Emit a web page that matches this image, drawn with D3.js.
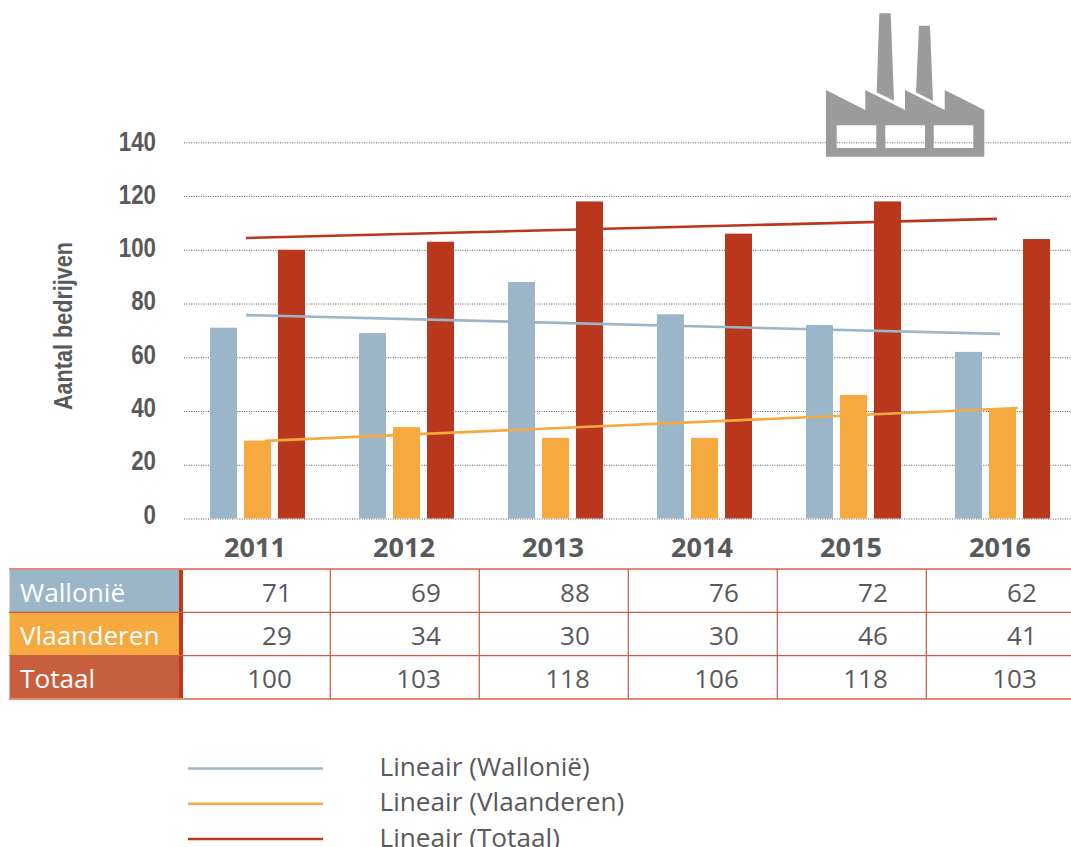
<!DOCTYPE html>
<html><head><meta charset="utf-8">
<script src="https://cdn.jsdelivr.net/npm/d3@7/dist/d3.min.js"></script>
<style>html,body{margin:0;padding:0;background:#fff}svg{display:block}</style>
</head><body><svg id="c" width="1071" height="847"></svg>
<script>
const years = [2011, 2012, 2013, 2014, 2015, 2016];
const seriesNames = ["Wallonië", "Vlaanderen", "Totaal"];
const wallonie = [71, 69, 88, 76, 72, 62];
const vlaanderen = [29, 34, 30, 30, 46, 41];
const totaal = [100, 103, 118, 106, 118, 104];
const tableWallonie = ["71", "69", "88", "76", "72", "62"];
const tableVlaanderen = ["29", "34", "30", "30", "46", "41"];
const tableTotaal = ["100", "103", "118", "106", "118", "103"];
const yTicks = [0, 20, 40, 60, 80, 100, 120, 140];
const trendWallonie = [[2010.923, 75.7], [2015.983, 68.7]];
const trendVlaanderen = [[2011.05, 28.9], [2016.104, 41.1]];
const trendTotaal = [[2010.923, 104.4], [2015.963, 111.5]];
const legendLabels = ["Lineair (Wallonië)", "Lineair (Vlaanderen)", "Lineair (Totaal)"];
const colors = ["#9bb6c9", "#f6a93f", "#b9371c"];
const tableFill = ["#9bb6c9", "#f6a93f", "#c75f3f"];
const ink = "#58595b";
const sans = "'Open Sans', sans-serif";
const narrow = "'Liberation Sans', sans-serif";

const svg = d3.select("#c");
const y = d3.scaleLinear().domain([0, 140]).range([518.5, 142.3]);
const labelY = d3.scaleLinear().domain([0, 140]).range([523.3, 150]);
const x0 = d3.scaleBand().domain(years).range([210, 1050]).paddingInner(54 / 149).paddingOuter(0);
const x1 = d3.scaleBand().domain(seriesNames).range([0, x0.bandwidth()]).paddingInner(7 / 34).paddingOuter(0);
const yearX = d3.scaleLinear().domain([2011, 2016]).range([257.5, 1002.5]);

// grid
const grid = svg.append("g").attr("transform", "translate(184,0)")
  .call(d3.axisLeft(y).tickValues(yTicks).tickSize(-887).tickFormat(""));
grid.select(".domain").remove();
grid.selectAll("line").attr("stroke", "#555").attr("stroke-dasharray", "1 1.4").attr("stroke-width", 1);

// y labels
const yAxis = svg.append("g").attr("transform", "translate(156,0)")
  .call(d3.axisLeft(labelY).tickValues(yTicks).tickSize(0).tickPadding(0));
yAxis.select(".domain").remove();
yAxis.selectAll("text").attr("dy", 0).attr("fill", ink)
  .attr("font-family", narrow).attr("font-weight", 700).attr("font-size", 27)
  .attr("textLength", d => String(d).length * 12.4).attr("lengthAdjust", "spacingAndGlyphs");

svg.append("text").attr("transform", "translate(71.5,410) rotate(-90)")
  .attr("font-family", narrow).attr("font-weight", 700).attr("font-size", 26).attr("fill", ink)
  .attr("textLength", 168).attr("lengthAdjust", "spacingAndGlyphs").text("Aantal bedrijven");

// bars
[wallonie, vlaanderen, totaal].forEach((vals, s) => {
  svg.append("g").selectAll("rect").data(vals).join("rect")
    .attr("x", (d, i) => x0(years[i]) + x1(seriesNames[s]))
    .attr("width", x1.bandwidth())
    .attr("y", d => y(d))
    .attr("height", d => y(0) - y(d))
    .attr("fill", colors[s]);
});

// trends
const line = d3.line().x(d => yearX(d[0])).y(d => y(d[1]));
[trendWallonie, trendVlaanderen, trendTotaal].forEach((t, s) => {
  svg.append("path").attr("d", line(t)).attr("fill", "none").attr("stroke", colors[s]).attr("stroke-width", 2.6);
});

// year labels
svg.append("g").selectAll("text").data(years).join("text")
  .attr("x", d => x0(d) + x0.bandwidth() / 2 - 2.5)
  .attr("y", 557).attr("text-anchor", "middle")
  .attr("font-family", sans).attr("font-weight", 700).attr("font-size", 27).attr("fill", ink)
  .text(d => d);

// table
const rowY = d3.scaleLinear().domain([0, 3]).range([569, 699]);
const colX = d3.scaleLinear().domain([0, 1]).range([181.3, 330.3]);
const table = svg.append("g");
seriesNames.forEach((n, r) => {
  table.append("rect").attr("x", 9.5).attr("y", rowY(r)).attr("width", 170).attr("height", rowY(r + 1) - rowY(r)).attr("fill", tableFill[r]);
  table.append("text").attr("x", 20).attr("y", rowY(r) + [32.5, 33, 32][r])
    .attr("font-family", sans).attr("font-size", 26.2).attr("fill", "#fff").text(n);
});
table.append("rect").attr("x", 179).attr("y", 569).attr("width", 4).attr("height", 130).attr("fill", "#c0391f");
[1, 2].forEach(r => table.append("line").attr("x1", 9).attr("x2", 1071).attr("y1", rowY(r)).attr("y2", rowY(r)).attr("stroke", "#cf5a42").attr("stroke-width", 1.2));
[0, 3].forEach(r => table.append("line").attr("x1", 9).attr("x2", 1071).attr("y1", rowY(r)).attr("y2", rowY(r)).attr("stroke", "#e08a78").attr("stroke-width", 1.8));
years.slice(1).forEach((d, i) => table.append("line").attr("x1", colX(i + 1)).attr("x2", colX(i + 1)).attr("y1", 569).attr("y2", 699).attr("stroke", "#cd5640").attr("stroke-width", 1.2));
[tableWallonie, tableVlaanderen, tableTotaal].forEach((vals, r) => {
  table.append("g").selectAll("text").data(vals).join("text")
    .attr("x", (d, i) => colX(i + 1) - 38.5).attr("y", rowY(r) + [32.5, 33, 32][r])
    .attr("text-anchor", "end").attr("font-family", sans).attr("font-size", 26).attr("fill", ink).text(d => d);
});

// legend
const legY = d3.scalePoint().domain(legendLabels).range([768.5, 839]);
legendLabels.forEach((l, i) => {
  svg.append("line").attr("x1", 188).attr("x2", 323).attr("y1", legY(l)).attr("y2", legY(l)).attr("stroke", colors[i]).attr("stroke-width", 2.4);
  svg.append("text").attr("x", 379.5).attr("y", legY(l) + 7.5).attr("font-family", sans).attr("font-size", 26.2).attr("fill", ink).text(l);
});

// factory icon
const icon = svg.append("g").attr("fill", "#9b9b9b");
icon.append("path").attr("fill-rule", "evenodd").attr("d",
  "M826,90L865.3,110V90L905,110V90L944.7,110V90L984.3,110V156.7H826Z" +
  "M836.7,125.3V148H876.3V125.3Z M885.3,125.3V148H925V125.3Z M933.7,125.3V148H973.3V125.3Z");
icon.append("path").attr("d", "M879.3,13.3H890.7L894,100.7L876.7,92.3Z");
icon.append("path").attr("d", "M919,25.7H930L933,101L916,92.3Z");
</script></body></html>
